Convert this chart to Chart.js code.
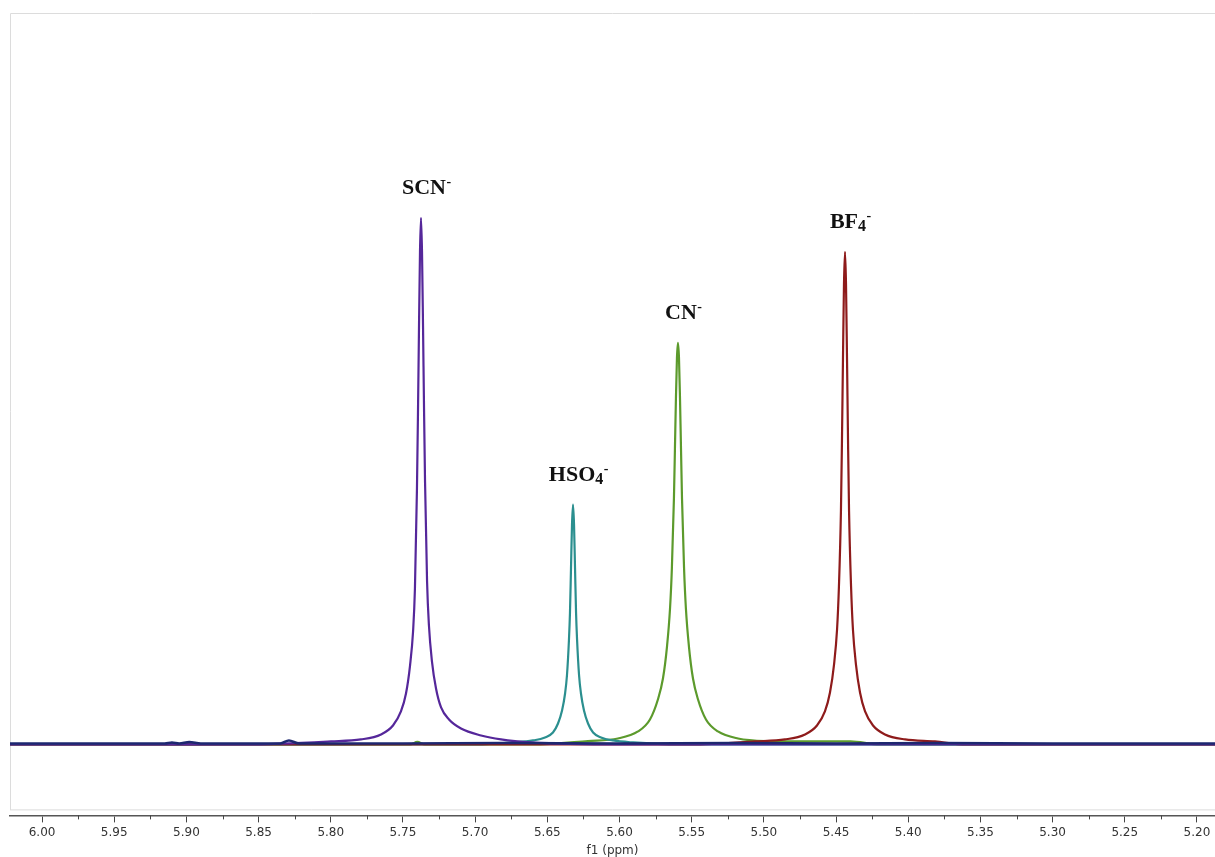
<!DOCTYPE html>
<html>
<head>
<meta charset="utf-8">
<title>f1 (ppm)</title>
<script src="https://cdn.jsdelivr.net/npm/chart.js@4.4.1/dist/chart.umd.min.js"></script>
<style>
  html, body { margin: 0; padding: 0; background: #fff; }
  #wrap { width: 1215px; height: 857px; position: relative; }
</style>
</head>
<body>
<div id="wrap"><canvas id="nmrChart"></canvas></div>
<script>
// Valores (ppm, intensidad a.u.)
const majorTicks = [6.00, 5.95, 5.90, 5.85, 5.80, 5.75, 5.70, 5.65, 5.60, 5.55, 5.50, 5.45, 5.40, 5.35, 5.30, 5.25, 5.20];
const minorTicks = [5.975, 5.925, 5.875, 5.825, 5.775, 5.725, 5.675, 5.625, 5.575, 5.525, 5.475, 5.425, 5.375, 5.325, 5.275, 5.225];

// SCN-
const scnPpm = [6.03, 5.86, 5.7998, 5.7791, 5.7652, 5.7569, 5.7514, 5.7479, 5.7451, 5.7430, 5.7417, 5.7403, 5.7396, 5.7389, 5.7382, 5.7375,
                5.7368, 5.7361, 5.7354, 5.7347, 5.7333, 5.7320, 5.7299, 5.7271, 5.7236, 5.7181, 5.7098, 5.6959, 5.6821, 5.6613, 5.60, 5.18];
const scnInt = [-1, -1, 2, 4, 9, 18, 32, 50, 78, 112, 155, 255, 330, 415, 492, 526,
                492, 418, 335, 262, 162, 118, 82, 55, 36, 24, 15, 8, 4, 1, -1, -1];

// HSO4-
const hso4Ppm = [6.03, 5.70, 5.6738, 5.6599, 5.6516, 5.6461, 5.6426, 5.6398, 5.6377, 5.6364, 5.6350, 5.6343, 5.6336, 5.6329, 5.6322,
                 5.6315, 5.6308, 5.6301, 5.6294, 5.6280, 5.6267, 5.6246, 5.6218, 5.6183, 5.6128, 5.6045, 5.5906, 5.56, 5.18];
const hso4Int = [-1, -1, 1, 3, 6, 11, 20, 33, 50, 68, 104, 131, 175, 219, 239,
                 219, 175, 131, 104, 68, 50, 33, 20, 11, 6, 3, 1, -1, -1];

// CN-
const cnPpm = [6.03, 5.745, 5.740, 5.735, 5.66, 5.6219, 5.6011, 5.5872, 5.5789, 5.5734, 5.5699, 5.5671, 5.5650, 5.5637, 5.5623, 5.5616, 5.5609, 5.5602, 5.5595,
               5.5588, 5.5581, 5.5574, 5.5567, 5.5553, 5.5540, 5.5519, 5.5491, 5.5456, 5.5401, 5.5318, 5.5179, 5.4971, 5.47, 5.44, 5.42, 5.18];
const cnInt = [-1, -1, 1.5, -1, -1, 2.4, 5, 12, 24, 44, 65, 97, 135, 176, 245, 295, 346, 386, 401,
               386, 346, 295, 245, 176, 135, 97, 65, 44, 24, 12, 5, 2.4, 2, 2, -1, -1];

// BF4-
const bf4Ppm = [6.03, 5.55, 5.5061, 5.4854, 5.4715, 5.4632, 5.4577, 5.4542, 5.4514, 5.4493, 5.4480, 5.4466, 5.4459, 5.4452, 5.4445, 5.4438,
                5.4431, 5.4424, 5.4417, 5.4410, 5.4396, 5.4383, 5.4362, 5.4334, 5.4299, 5.4244, 5.4161, 5.4022, 5.3815, 5.36, 5.18];
const bf4Int = [-1, -1, 2, 4, 9, 18, 32, 51, 79, 114, 157, 233, 303, 385, 460, 492,
                460, 385, 303, 233, 157, 114, 79, 51, 32, 18, 9, 4, 2, -1, -1];

// línea base (espectro sin señal en esta zona)
const basePpm = [6.03, 5.95, 5.915, 5.910, 5.905, 5.898, 5.890, 5.835, 5.829, 5.822, 5.75, 5.68, 5.60, 5.52, 5.45, 5.38, 5.30, 5.18];
const baseInt = [0, 0, 0, 1, 0, 1.5, 0, 0, 3, 0, 0, 0.5, 0, 0.5, 0, 0.5, 0, 0];

// etiquetas de los aniones
const anionNames = ['SCN', 'HSO', 'CN', 'BF'];
const anionSubs  = ['', '4', '', '4'];
const anionPeakPpm = [5.7375, 5.6322, 5.5595, 5.4438];
const anionPeakInt = [526, 239, 401, 492];

const colores = {
    scn: '#55279a',
    hso4: '#2b8f8f',
    cn: '#5c9a2c',
    bf4: '#8e1b1b',
    base: '#1d2870'
};

function toPoints(xs, ys) {
    return xs.map((x, i) => ({ x: x, y: ys[i] }));
}

function serie(label, xs, ys, color, width) {
    return {
        label: label,
        data: toPoints(xs, ys),
        borderColor: color,
        borderWidth: width,
        pointRadius: 0,
        showLine: true,
        fill: false,
        cubicInterpolationMode: 'monotone'
    };
}

// marco gris claro del área del espectro
const marcoPlugin = {
    id: 'marco',
    beforeDraw(chart) {
        const { ctx, chartArea } = chart;
        ctx.save();
        ctx.strokeStyle = '#dcdcdc';
        ctx.lineWidth = 1;
        ctx.beginPath();
        ctx.moveTo(chartArea.left + 0.5, chartArea.bottom - 5.5);
        ctx.lineTo(chartArea.left + 0.5, chartArea.top + 0.5);
        ctx.lineTo(chartArea.right, chartArea.top + 0.5);
        ctx.moveTo(chartArea.left, chartArea.bottom - 5.5);
        ctx.lineTo(chartArea.right, chartArea.bottom - 5.5);
        ctx.stroke();
        ctx.restore();
    }
};

// ticks menores y etiquetas de los picos
const extrasPlugin = {
    id: 'extras',
    afterDraw(chart) {
        const ctx = chart.ctx;
        const xs = chart.scales.x;
        const ys = chart.scales.y;
        ctx.save();
        ctx.strokeStyle = '#444';
        ctx.lineWidth = 1;
        minorTicks.forEach(v => {
            const px = Math.round(xs.getPixelForValue(v)) + 0.5;
            ctx.beginPath();
            ctx.moveTo(px, xs.top);
            ctx.lineTo(px, xs.top + 4);
            ctx.stroke();
        });

        ctx.fillStyle = '#111';
        ctx.textBaseline = 'alphabetic';
        anionNames.forEach((nombre, i) => {
            const px = xs.getPixelForValue(anionPeakPpm[i]) + 3;
            const py = ys.getPixelForValue(anionPeakInt[i]) - 24;
            ctx.font = 'bold 22px "Liberation Serif", "DejaVu Serif", serif';
            const wMain = ctx.measureText(nombre).width;
            ctx.font = 'bold 16px "Liberation Serif", "DejaVu Serif", serif';
            const wSub = anionSubs[i] ? ctx.measureText(anionSubs[i]).width : 0;
            const x0 = px - (wMain + wSub) / 2;
            ctx.textAlign = 'left';
            ctx.font = 'bold 22px "Liberation Serif", "DejaVu Serif", serif';
            ctx.fillText(nombre, x0, py);
            ctx.font = 'bold 16px "Liberation Serif", "DejaVu Serif", serif';
            if (anionSubs[i]) ctx.fillText(anionSubs[i], x0 + wMain, py + 3);
            ctx.font = 'bold 14px "Liberation Serif", "DejaVu Serif", serif';
            ctx.fillText('-', x0 + wMain + wSub + 0.5, py - 8);
        });
        ctx.restore();
    }
};

const ctx = document.getElementById('nmrChart').getContext('2d');
new Chart(ctx, {
    type: 'scatter',
    data: {
        datasets: [
            serie('base', basePpm, baseInt, colores.base, 2.6),
            serie('SCN-', scnPpm, scnInt, colores.scn, 2.2),
            serie('BF4-', bf4Ppm, bf4Int, colores.bf4, 2.2),
            serie('HSO4-', hso4Ppm, hso4Int, colores.hso4, 2.2),
            serie('CN-', cnPpm, cnInt, colores.cn, 2.2)
        ]
    },
    options: {
        responsive: true,
        maintainAspectRatio: false,
        animation: false,
        layout: { padding: { left: 10, top: 13, right: 0, bottom: 0 } },
        plugins: {
            legend: { display: false },
            tooltip: { enabled: false }
        },
        scales: {
            x: {
                type: 'linear',
                reverse: true,
                min: 5.1875,
                max: 6.0222,
                afterBuildTicks: (scale) => {
                    scale.ticks = majorTicks.map(v => ({ value: v }));
                },
                ticks: {
                    autoSkip: false,
                    maxRotation: 0,
                    padding: 3,
                    color: '#333',
                    font: { family: '"DejaVu Sans", Verdana, sans-serif', size: 12 },
                    callback: (v) => Number(v).toFixed(2)
                },
                grid: {
                    drawOnChartArea: false,
                    drawTicks: true,
                    tickLength: 7,
                    tickColor: '#444'
                },
                border: { display: true, color: '#555', width: 1.5 },
                title: {
                    display: true,
                    text: 'f1 (ppm)',
                    color: '#333',
                    font: { family: '"DejaVu Sans", Verdana, sans-serif', size: 12, lineHeight: 1.1 },
                    padding: { top: 1, bottom: 0 }
                }
            },
            y: {
                display: false,
                min: -72,
                max: 731
            }
        }
    },
    plugins: [marcoPlugin, extrasPlugin]
});
</script>
</body>
</html>
